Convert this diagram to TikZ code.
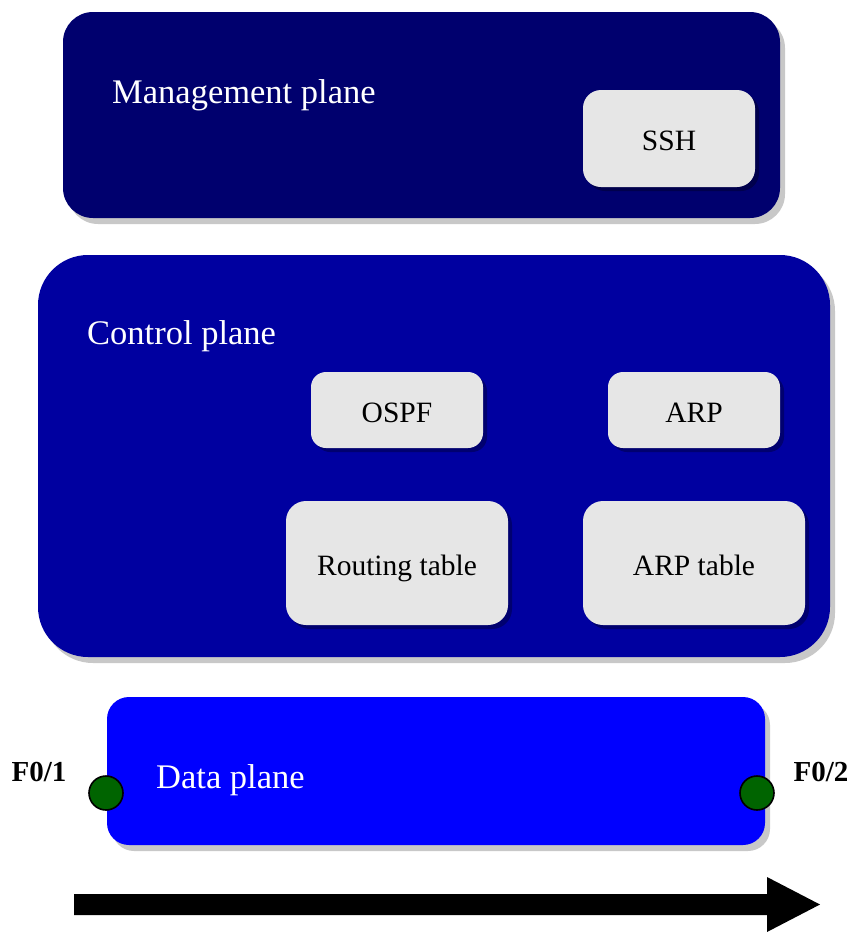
\documentclass[tikz,border=0pt]{standalone}
\usepackage{fontspec}
\setmainfont{Liberation Serif}
\usetikzlibrary{shadows}
\definecolor{mgmtblue}{RGB}{0,0,110}
\definecolor{ctrlblue}{RGB}{0,0,160}
\definecolor{datablue}{RGB}{0,0,255}
\definecolor{boxgray}{RGB}{230,230,230}
\definecolor{shadowgray}{RGB}{200,200,200}
\definecolor{portgreen}{RGB}{0,100,0}
\begin{document}
\begin{tikzpicture}[x=1pt,y=-1pt,
  plane/.style={rectangle, draw=none, inner sep=0pt,
    drop shadow={shadow xshift=5pt, shadow yshift=-6pt, fill=shadowgray, opacity=1}},
  func/.style={rectangle, draw=none, fill=boxgray, inner sep=0pt,
    text height=31pt, text depth=6.6pt,
    font=\fontsize{29.5pt}{34pt}\selectfont,
    drop shadow={shadow xshift=4pt, shadow yshift=-4pt, fill=black, opacity=0.3}},
  planelabel/.style={anchor=west, text=white, inner sep=0pt, font=\fontsize{34.5pt}{40pt}\selectfont},
  port/.style={circle, draw=black, line width=1.6pt, fill=portgreen, minimum size=34pt, inner sep=0pt},
  portlabel/.style={inner sep=0pt, font=\fontsize{29pt}{34pt}\selectfont\bfseries}
]
\useasboundingbox (0,0) rectangle (850,932);

% Management plane
\node[plane, fill=mgmtblue, rounded corners=30pt, minimum width=717pt, minimum height=206pt] (mgmt) at (421.5,115) {};
\node[planelabel] (mgmtlabel) at (112,95) {Management plane};
\node[func, rounded corners=18pt, minimum width=172pt, minimum height=97pt] (ssh) at (669,138.5) {SSH};

% Control plane
\node[plane, fill=ctrlblue, rounded corners=50pt, minimum width=792pt, minimum height=402pt] (ctrl) at (434,456) {};
\node[planelabel] (ctrllabel) at (87,336) {Control plane};
\node[func, rounded corners=15pt, minimum width=172pt, minimum height=76pt] (ospf) at (397,410) {OSPF};
\node[func, rounded corners=15pt, minimum width=172pt, minimum height=76pt] (arp) at (694,410) {ARP};
\node[func, rounded corners=20pt, minimum width=222pt, minimum height=124pt] (rt) at (397,563) {Routing table};
\node[func, rounded corners=20pt, minimum width=222pt, minimum height=124pt] (arpt) at (694,563) {ARP table};

% Data plane
\node[plane, fill=datablue, rounded corners=22pt, minimum width=658pt, minimum height=148pt] (data) at (436,771) {};
\node[planelabel] (datalabel) at (156,780) {Data plane};
\node[port] (p1) at (106,793) {};
\node[port] (p2) at (757,793) {};
\node[portlabel] (p1label) at (39,772) {F0/1};
\node[portlabel] (p2label) at (821,772) {F0/2};

% Direction arrow
\coordinate (arrowtail) at (74,904.5);
\coordinate (arrowtip) at (820,904.5);
\fill[black] (74,894) -- (767,894) -- (767,877) -- (arrowtip) -- (767,932) -- (767,915) -- (74,915) -- cycle;
\end{tikzpicture}
\end{document}
